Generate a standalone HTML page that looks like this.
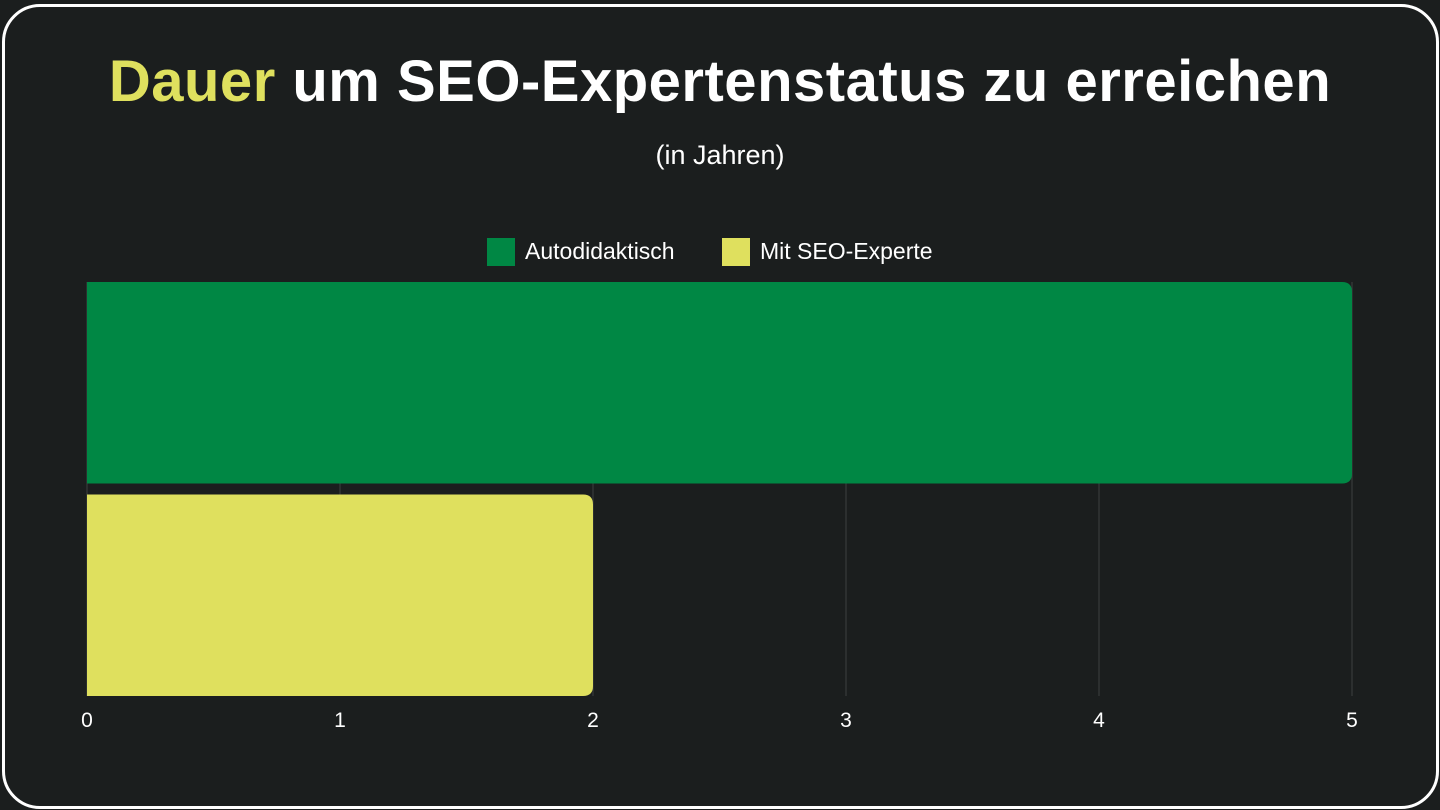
<!DOCTYPE html>
<html><head><meta charset="utf-8"><style>
body{margin:0;width:1440px;height:810px;background:#1b1e1e;overflow:hidden;font-family:"Liberation Sans",sans-serif}
#frame{position:absolute;left:2px;top:4px;width:1431px;height:799px;border:3px solid #fff;border-radius:38px;background:#1b1e1e}
#title{position:absolute;left:0;width:1440px;top:48px;text-align:center;color:#fff;font-weight:bold;font-size:58px;letter-spacing:0.5px}
#title span{color:#dfe05e}
#sub{position:absolute;left:0;width:1440px;top:140px;text-align:center;color:#fff;font-size:27px}
svg{position:absolute;left:0;top:0}
</style></head><body>
<div id="frame"></div>
<div id="title"><span>Dauer</span> um SEO-Expertenstatus zu erreichen</div>
<div id="sub">(in Jahren)</div>
<svg width="1440" height="810" id="chart"></svg>
<script>
const seriesNames=["Autodidaktisch","Mit SEO-Experte"];
const seriesValues=[5,2];
const seriesColors=["#008744","#dfe05e"];
const ticks=[0,1,2,3,4,5];
const NS="http://www.w3.org/2000/svg";
const svg=document.getElementById('chart');
const x0=87,x1=1352,xmax=5,yTop=282,yBot=696;
const X=v=>x0+(x1-x0)*v/xmax;
function mk(t,a){const e=document.createElementNS(NS,t);for(const k in a)e.setAttribute(k,a[k]);svg.appendChild(e);return e;}
ticks.forEach(t=>{
 if(t>0){const l=mk('line',{x1:X(t),x2:X(t),y1:yTop,y2:yBot,stroke:'#3d4040','stroke-width':1});
 
 }
 const tx=mk('text',{x:X(t),y:727,fill:'#fff','font-size':21,'text-anchor':'middle','font-family':'Liberation Sans, sans-serif'});
 tx.textContent=t;
 
 
});
mk('line',{x1:x0,x2:x0,y1:yTop,y2:yBot,stroke:'#3d4040','stroke-width':1});
const band=(yBot-yTop)/seriesValues.length,gap=11;
seriesValues.forEach((v,i)=>{
 const y=yTop+i*band+(i>0?gap/2:0),h=band-gap/2,w=X(v)-x0,r=10;
 const p=mk('path',{d:`M${x0},${y}H${x0+w-r}Q${x0+w},${y} ${x0+w},${y+r}V${y+h-r}Q${x0+w},${y+h} ${x0+w-r},${y+h}H${x0}Z`,fill:seriesColors[i]});
 
 
});
// legend
let lx=487;
seriesNames.forEach((n,i)=>{
 const r=mk('rect',{x:lx,y:238,width:28,height:28,fill:seriesColors[i]});
 
 
 const t=mk('text',{x:lx+38,y:259,fill:'#fff','font-size':23,'font-family':'Liberation Sans, sans-serif'});
 t.textContent=n;
 
 
 lx=722;
});
</script>
</body></html>
